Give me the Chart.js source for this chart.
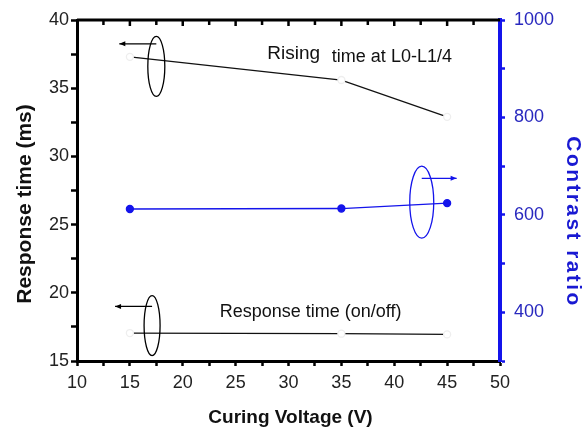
<!DOCTYPE html>
<html>
<head>
<meta charset="utf-8">
<script src="https://cdn.jsdelivr.net/npm/chart.js@4.4.1/dist/chart.umd.min.js"></script>
<style>
html, body { margin: 0; padding: 0; background: #fff; }
#wrap { width: 584px; height: 429px; }
</style>
</head>
<body>
<div id="wrap"><canvas id="chart"></canvas></div>
<script>
// values
const voltage = [15, 35, 45];
const risingTime = [37.3, 35.6, 32.9];      // ms, left axis
const responseTime = [17.05, 17.0, 16.95];  // ms, left axis
const contrastRatio = [612, 613, 624];      // right axis

const leftLabels = [15, 20, 25, 30, 35, 40];
const rightLabels = [400, 600, 800, 1000];
const xLabels = [10, 15, 20, 25, 30, 35, 40, 45, 50];

const blue = "rgb(20, 20, 235)";
const blueText = "rgb(40, 40, 190)";
const FONT = "'Liberation Sans', Arial, sans-serif";

function pts(ys) {
  return voltage.map((v, i) => ({ x: v, y: ys[i] }));
}

// ellipse + arrow markers, in data units (x, y on the named axis)
const brackets = [
  { axis: "y", cx: 17.5, cy: 36.6, rx: 8.5, ry: 30, ax: 14.0, ay: 38.25 },
  { axis: "y", cx: 17.1, cy: 17.6, rx: 8, ry: 30, ax: 13.6, ay: 19.0 },
  { axis: "y1", cx: 42.6, cy: 626, rx: 12, ry: 36, ax: 45.9, ay: 675, color: blue },
];

const decor = {
  id: "decor",
  afterDraw(chart) {
    const { ctx, chartArea: a, scales } = chart;
    const x = scales.x;
    ctx.save();
    // top frame line with inward ticks
    ctx.strokeStyle = "#000";
    ctx.lineWidth = 3;
    ctx.beginPath();
    ctx.moveTo(a.left, a.top);
    ctx.lineTo(a.right, a.top);
    ctx.stroke();
    ctx.lineWidth = 2.5;
    for (let v = 12.5; v < 50; v += 2.5) {
      const px = x.getPixelForValue(v);
      ctx.beginPath();
      ctx.moveTo(px, a.top);
      ctx.lineTo(px, a.top + (v % 5 === 0 ? 6 : 5));
      ctx.stroke();
    }

    // brackets
    brackets.forEach(b => {
      const ys = scales[b.axis];
      const cx = x.getPixelForValue(b.cx), cy = ys.getPixelForValue(b.cy);
      const ax = x.getPixelForValue(b.ax), ay = ys.getPixelForValue(b.ay);
      ctx.strokeStyle = b.color || "#000";
      ctx.fillStyle = b.color || "#000";
      ctx.lineWidth = 1.3;
      ctx.beginPath();
      ctx.ellipse(cx, cy, b.rx, b.ry, 0, 0, Math.PI * 2);
      ctx.stroke();
      ctx.beginPath();
      ctx.moveTo(cx, ay);
      ctx.lineTo(ax, ay);
      ctx.stroke();
      const dir = ax < cx ? 1 : -1;
      ctx.beginPath();
      ctx.moveTo(ax, ay);
      ctx.lineTo(ax + dir * 6, ay - 2.5);
      ctx.lineTo(ax + dir * 6, ay + 2.5);
      ctx.closePath();
      ctx.fill();
    });

    // text labels inside the plot
    const yl = scales.y;
    ctx.fillStyle = "#111";
    ctx.textBaseline = "middle";
    ctx.textAlign = "left";
    ctx.font = "19px " + FONT;
    ctx.fillText("Rising", x.getPixelForValue(28.0), yl.getPixelForValue(37.5));
    ctx.font = "18px " + FONT;
    ctx.fillText("time at L0-L1/4", x.getPixelForValue(34.1), yl.getPixelForValue(37.3));
    ctx.font = "18px " + FONT;
    ctx.fillText("Response time (on/off)", x.getPixelForValue(23.5), yl.getPixelForValue(18.6));

    // axis titles
    ctx.textAlign = "center";
    ctx.textBaseline = "alphabetic";
    ctx.font = "bold 19px " + FONT;
    ctx.fillText("Curing Voltage (V)", (a.left + a.right) / 2 + 2, 423);

    ctx.save();
    ctx.translate(31, 204);
    ctx.rotate(-Math.PI / 2);
    ctx.font = "bold 21px " + FONT;
    ctx.fillText("Response time (ms)", 0, 0);
    ctx.restore();

    ctx.save();
    ctx.translate(567, 222);
    ctx.rotate(Math.PI / 2);
    ctx.font = "bold 21px " + FONT;
    ctx.fillStyle = "rgb(25, 25, 210)";
    ctx.letterSpacing = "2.4px";
    ctx.fillText("Contrast ratio", 0, 0);
    ctx.restore();

    ctx.restore();
  }
};

new Chart(document.getElementById("chart"), {
  type: "line",
  data: {
    datasets: [
      {
        label: "Rising time",
        data: pts(risingTime),
        yAxisID: "y",
        borderColor: "#111",
        borderWidth: 1.3,
        pointRadius: 3.5,
        pointBackgroundColor: "#fff",
        pointBorderColor: "#eee",
      },
      {
        label: "Response time",
        data: pts(responseTime),
        yAxisID: "y",
        borderColor: "#111",
        borderWidth: 1.3,
        pointRadius: 3.5,
        pointBackgroundColor: "#fff",
        pointBorderColor: "#eee",
      },
      {
        label: "Contrast ratio",
        data: pts(contrastRatio),
        yAxisID: "y1",
        borderColor: blue,
        borderWidth: 1.3,
        pointRadius: 3.5,
        pointBackgroundColor: blue,
        pointBorderColor: blue,
      },
    ],
  },
  options: {
    responsive: true,
    maintainAspectRatio: false,
    animation: false,
    layout: { padding: { top: 20, right: 0, left: 0, bottom: 0 } },
    plugins: {
      legend: { display: false },
      tooltip: { enabled: false },
    },
    scales: {
      x: {
        type: "linear",
        min: 10,
        max: 50,
        afterFit: s => { s.height = 68; },
        afterBuildTicks: s => {
          s.ticks = [];
          for (let v = 10; v <= 50; v += 2.5) s.ticks.push({ value: v });
        },
        border: { color: "#000", width: 3 },
        grid: { drawOnChartArea: false, tickLength: 5, tickWidth: 2.5, tickColor: "#000" },
        ticks: {
          autoSkip: false,
          maxRotation: 0,
          padding: 6,
          color: "#222",
          font: { family: FONT, size: 18 },
          callback: v => (xLabels.includes(v) ? v : ""),
        },
      },
      y: {
        position: "left",
        min: 15,
        max: 40,
        afterFit: s => { s.width = 77; },
        afterBuildTicks: s => {
          s.ticks = [];
          for (let v = 15; v <= 40; v += 2.5) s.ticks.push({ value: v });
        },
        border: { color: "#000", width: 3 },
        grid: { drawOnChartArea: false, tickLength: 6, tickWidth: 2.5, tickColor: "#000" },
        ticks: {
          autoSkip: false,
          padding: 2,
          color: "#222",
          font: { family: FONT, size: 18 },
          callback: v => (leftLabels.includes(v) ? v : ""),
        },
      },
      y1: {
        position: "right",
        min: 300,
        max: 1000,
        afterFit: s => { s.width = 84; },
        afterBuildTicks: s => {
          s.ticks = [];
          for (let v = 300; v <= 1000; v += 100) s.ticks.push({ value: v });
        },
        border: { color: blue, width: 4 },
        grid: { drawOnChartArea: false, tickLength: 5, tickWidth: 2.5, tickColor: blue },
        ticks: {
          autoSkip: false,
          padding: 9,
          color: blueText,
          font: { family: FONT, size: 18 },
          callback: v => (rightLabels.includes(v) ? v : ""),
        },
      },
    },
  },
  plugins: [decor],
});
</script>
</body>
</html>
